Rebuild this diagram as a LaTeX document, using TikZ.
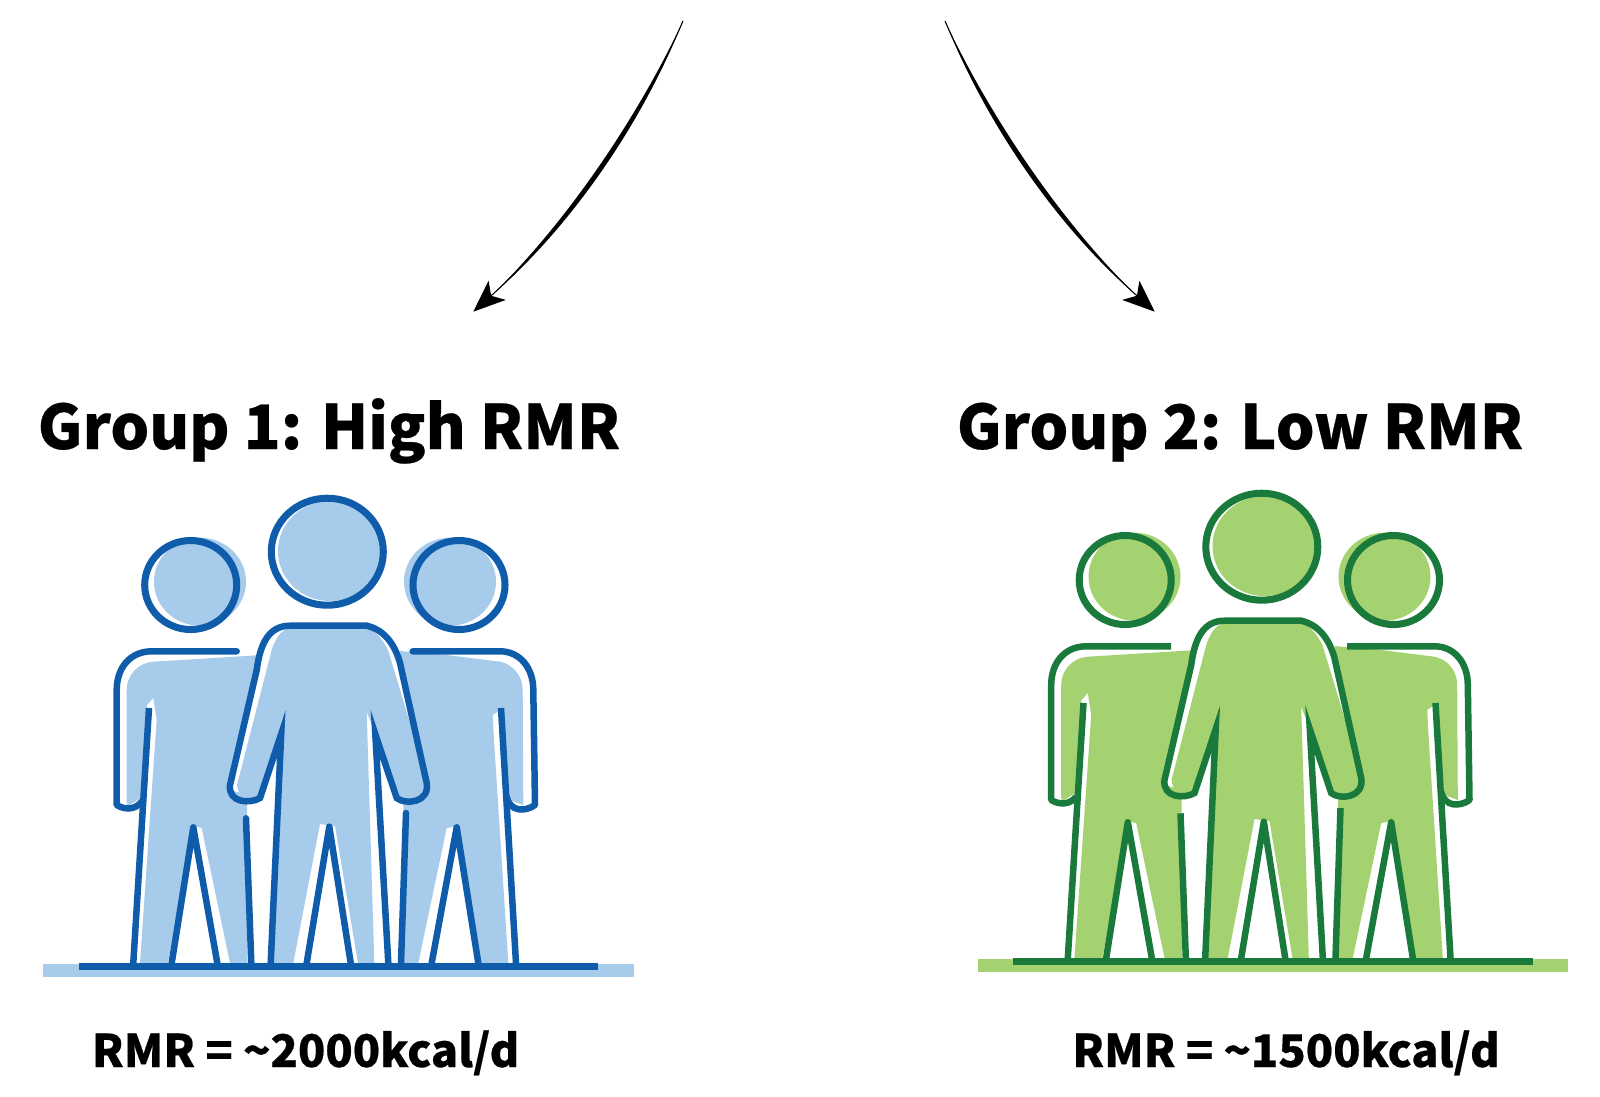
\documentclass[tikz,border=0pt]{standalone}
\usepackage{fontspec}
\setmainfont{Noto Sans CJK SC}[BoldFeatures={FakeBold=0.4}]
\usetikzlibrary{arrows.meta}
\definecolor{blueline}{HTML}{0F5CAB}
\definecolor{bluefill}{HTML}{A6CBEB}
\definecolor{greenline}{HTML}{1A7A3C}
\definecolor{greenfill}{HTML}{A5D271}
\newcommand{\crowd}[3]{%
	% Fill colour behind the lines
	\fill[#2] (43,964) rectangle (633.5,977);
	\fill[#2] (200,581.7) ellipse (46 and 44);
	\fill[#2] (450,581.7) ellipse (46 and 44);
	\fill[#2] (330,551) ellipse (52 and 50);
	\fill[#2] (126.7,690) .. controls (126.7,675) and (138,663) .. (153,661.7) -- (262,655) -- (262,700) -- (247,806) -- (247.3,963) -- (230,963) -- (201.7,828) -- (193,826) -- (168,963) -- (140,963) -- (156.7,720) -- (153.3,698) -- (147,705) -- (141,798) -- (128,806) -- (126.7,803) -- cycle;
	\fill[#2] (400,651) -- (446.7,655) -- (500,661.7) .. controls (512,664) and (522.7,675) .. (522.7,690) -- (523.3,805) -- (510,800) -- (500,710) -- (492.7,715) -- (494,740) -- (508.3,963) -- (478,963) -- (458,826) -- (446.7,828) -- (418.3,963) -- (403.3,963) -- (403.3,803) -- (400,720) -- cycle;
	\fill[white] (270.7,963) -- (281.2,734) -- (260,798) -- (230,790) -- (256.7,670) .. controls (260,645) and (268,625.7) .. (290,625.7) -- (366.7,625.7) .. controls (385,630) and (395,645) .. (400,663) -- (426.7,783) -- (396.7,798) -- (375.3,734) -- (388.3,963) -- cycle;
	\fill[#2] (271.7,650) .. controls (275,640) and (280,630) .. (290,628) -- (366.7,628) .. controls (375,630) and (383,640) .. (388,650) -- (410,723) -- (415,733) -- (424,783) .. controls (424,795) and (410,802) .. (396.7,798) -- (375.3,734) -- (366.7,711.7) -- (374.3,963) -- (358,963) -- (335,826) -- (320,824) -- (293.3,963) -- (273.3,963) -- (281.2,734) -- (260,798) .. controls (250,802) and (238,798) .. (237,785) -- cycle;
	% Heads
	\draw[headline,draw=#1] (190.7,585) ellipse (46 and 44.5);
	\draw[headline,draw=#1] (459,585) ellipse (46 and 44.5);
	\draw[headline,draw=#1] (327.3,551.7) ellipse (56 and 53.5);
	% Bodies
	\draw[bodyline,draw=#1,line cap=#3] (236.7,651.3) -- (151.7,651.3) .. controls (130,651.3) and (116.7,668) .. (116.7,690) -- (116.7,805) .. controls (125,810) and (135,810) .. (141.7,801.7);
	\draw[bodyline,draw=#1,line cap=butt] (149,708) -- (133.3,963);
	\draw[bodyline,draw=#1] (171.7,963) -- (193.3,827.3) -- (217.3,963);
	\draw[bodyline,draw=#1,line cap=#3] (246,818.3) -- (251.3,963);
	\draw[bodyline,draw=#1,line join=miter,miter limit=20] (270.7,963) -- (281.2,734) -- (260,798) .. controls (250,804) and (228,803) .. (230,785) -- (256.7,670) .. controls (260,645) and (268,625.7) .. (290,625.7) -- (366.7,625.7) .. controls (385,630) and (395,645) .. (400,663) -- (426.7,783) .. controls (430,803) and (405,805) .. (396.7,798) -- (375.3,734) -- (388.3,963);
	\draw[bodyline,draw=#1] (306.7,963) -- (329.3,826.7) -- (350.7,963);
	\draw[bodyline,draw=#1,line cap=#3] (406,813) -- (401,963);
	\draw[bodyline,draw=#1] (431.7,963) -- (456.7,827.3) -- (478.3,963);
	\draw[bodyline,draw=#1,line cap=butt] (516,963) -- (501,708);
	\draw[bodyline,draw=#1,line cap=#3] (506.7,796.7) .. controls (510,812) and (525,812) .. (535,805) -- (533.3,690) .. controls (533.3,668) and (520,651.3) .. (500,651.3) -- (412.7,651.3);
	% Ground
	\draw[bodyline,draw=#1,line cap=butt] (78.5,966.5) -- (598.3,966.5);
}

\begin{document}
\begin{tikzpicture}[x=0.01cm,y=-0.01cm]
	\tikzstyle{headline}=[line width=2pt]
	\tikzstyle{bodyline}=[line width=1.85pt, line cap=round, line join=round]
	\tikzstyle{title}=[font=\fontsize{17.4}{21}\selectfont\bfseries, anchor=base, inner sep=0pt]
	\tikzstyle{rmr}=[font=\fontsize{12.8}{16}\selectfont\bfseries, anchor=base, inner sep=0pt]
	\tikzstyle{curve}=[line width=0.3pt, -{Stealth[length=9.1pt,width=7.3pt,inset=2.3pt]}]
	\useasboundingbox (0,0) rectangle (1600,1096);

	% Draw arrows
	\coordinate (startleft) at (683,21);
	\coordinate (tipleft) at (473.3,311.7);
	\coordinate (startright) at (945,21);
	\coordinate (tipright) at (1154.7,311.7);
	\draw[curve] (startleft) .. controls (640,120) and (570,225) .. (tipleft);
	\draw[curve] (startright) .. controls (988,120) and (1058,225) .. (tipright);
	\fill (startleft) .. controls (637.5,117.5) and (567.5,221.5) .. (492,295) .. controls (571.5,226.5) and (642.5,122.5) .. (startleft);
	\fill (startright) .. controls (990.5,117.5) and (1060.5,221.5) .. (1136,295) .. controls (1056.5,226.5) and (985.5,122.5) .. (startright);

	% Draw groups
	\begin{scope}
		\crowd{blueline}{bluefill}{round}
	\end{scope}
	\begin{scope}[shift={(934.5,-5)}]
		\crowd{greenline}{greenfill}{butt}
	\end{scope}

	% Draw labels
	\node[title] (titleone) at (329,449) {Group 1: High RMR};
	\node[title] (titletwo) at (1240,449) {Group 2: Low RMR};
	\node[rmr] (rmrone) at (305.6,1067) {RMR = \textasciitilde 2000kcal/d};
	\node[rmr] (rmrtwo) at (1286,1067) {RMR = \textasciitilde 1500kcal/d};
\end{tikzpicture}
\end{document}
